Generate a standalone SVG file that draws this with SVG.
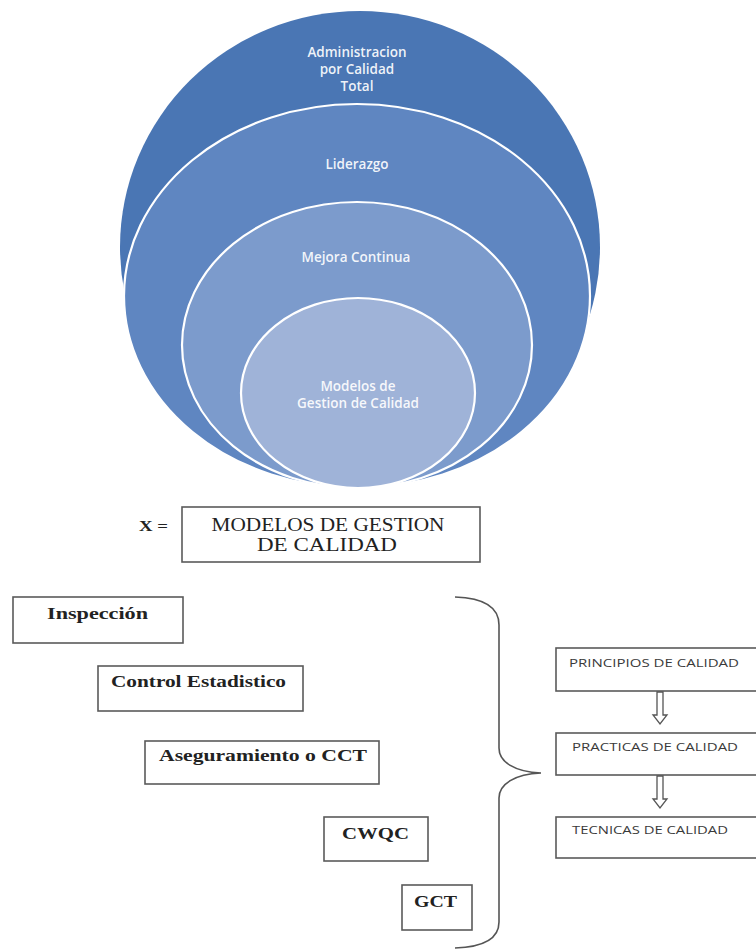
<svg xmlns="http://www.w3.org/2000/svg" width="756" height="950" viewBox="0 0 756 950">
  <style>
    .ring { stroke: #ffffff; stroke-width: 2.2; }
    .ring-label { font-family: "Open Sans", "DejaVu Sans", sans-serif; font-size: 13.5px; font-weight: 600; fill: #ffffff; fill-opacity: 0.92; text-anchor: middle; }
    .box { fill: #ffffff; stroke: #5a5a5a; stroke-width: 1.6; }
    .serif { font-family: "Liberation Serif", "Times New Roman", serif; fill: #222222; }
    .step { font-family: "Open Sans", "DejaVu Sans", sans-serif; font-size: 10.5px; fill: #3a3a3a; }
    .hollow { fill: #ffffff; stroke: #555555; stroke-width: 1.3; stroke-linejoin: miter; }
    .brace { fill: none; stroke: #555555; stroke-width: 1.6; }
  </style>

  <rect width="756" height="950" fill="#ffffff"/>

  <!-- nested rings -->
  <g id="ring-total">
    <ellipse cx="360" cy="247" rx="240" ry="236" fill="#4a76b4"/>
    <text class="ring-label" x="357" y="57">Administracion</text>
    <text class="ring-label" x="357" y="74">por Calidad</text>
    <text class="ring-label" x="357" y="91">Total</text>
  </g>
  <g id="ring-liderazgo">
    <ellipse class="ring" cx="357" cy="296" rx="233" ry="192" fill="#5f86c1"/>
    <text class="ring-label" x="357" y="169">Liderazgo</text>
  </g>
  <g id="ring-mejora">
    <ellipse class="ring" cx="357" cy="345" rx="175" ry="143" fill="#7c9bcc"/>
    <text class="ring-label" x="356" y="262">Mejora Continua</text>
  </g>
  <g id="ring-modelos">
    <ellipse class="ring" cx="358" cy="393" rx="117" ry="95" fill="#9fb3d8"/>
    <text class="ring-label" x="358" y="391">Modelos de</text>
    <text class="ring-label" x="358" y="408">Gestion de Calidad</text>
  </g>

  <!-- X definition -->
  <g id="x-def">
    <text class="serif" x="139" y="531" font-size="15" font-weight="bold" textLength="29" lengthAdjust="spacingAndGlyphs">X =</text>
    <rect class="box" x="182" y="507" width="298" height="55"/>
    <text class="serif" x="328" y="531" font-size="19" text-anchor="middle" textLength="233" lengthAdjust="spacingAndGlyphs">MODELOS DE GESTION</text>
    <text class="serif" x="327" y="551" font-size="19" text-anchor="middle" textLength="140" lengthAdjust="spacingAndGlyphs">DE CALIDAD</text>
  </g>

  <!-- stages -->
  <g id="inspeccion">
    <rect class="box" x="13" y="597" width="170" height="46"/>
    <text class="serif" x="47" y="619" font-size="17" font-weight="bold" textLength="101" lengthAdjust="spacingAndGlyphs">Inspección</text>
  </g>
  <g id="control-estadistico">
    <rect class="box" x="98" y="666" width="205" height="45"/>
    <text class="serif" x="111" y="687" font-size="17" font-weight="bold" textLength="175" lengthAdjust="spacingAndGlyphs">Control Estadistico</text>
  </g>
  <g id="aseguramiento">
    <rect class="box" x="145" y="741" width="234" height="43"/>
    <text class="serif" x="159" y="761" font-size="17" font-weight="bold" textLength="208" lengthAdjust="spacingAndGlyphs">Aseguramiento o CCT</text>
  </g>
  <g id="cwqc">
    <rect class="box" x="324" y="817" width="104" height="44"/>
    <text class="serif" x="342" y="839" font-size="17" font-weight="bold" textLength="67" lengthAdjust="spacingAndGlyphs">CWQC</text>
  </g>
  <g id="gct">
    <rect class="box" x="402" y="885" width="70" height="45"/>
    <text class="serif" x="414" y="907" font-size="17" font-weight="bold" textLength="43" lengthAdjust="spacingAndGlyphs">GCT</text>
  </g>

  <!-- quality levels -->
  <g id="principios">
    <rect class="box" x="556" y="648" width="210" height="43"/>
    <text class="step" x="569" y="667" textLength="170" lengthAdjust="spacingAndGlyphs">PRINCIPIOS DE CALIDAD</text>
  </g>
  <g id="practicas">
    <rect class="box" x="556" y="733" width="210" height="42"/>
    <text class="step" x="572" y="751" textLength="166" lengthAdjust="spacingAndGlyphs">PRACTICAS DE CALIDAD</text>
  </g>
  <g id="tecnicas">
    <rect class="box" x="556" y="817" width="210" height="41"/>
    <text class="step" x="572" y="834" textLength="156" lengthAdjust="spacingAndGlyphs">TECNICAS DE CALIDAD</text>
  </g>

  <!-- connectors -->
  <g id="connectors">
    <path class="brace" d="M455,597 C485,598 499,608 499,625 L499,748 C499,762 515,772 541,773 C515,774 499,784 499,798 L499,922 C499,938 485,947 455,948"/>
    <path class="hollow" d="M657,692 L663,692 L663,715 L667,715 L660,724 L653,715 L657,715 Z"/>
    <path class="hollow" d="M657,776 L663,776 L663,799 L667,799 L660,808 L653,799 L657,799 Z"/>
  </g>
</svg>
